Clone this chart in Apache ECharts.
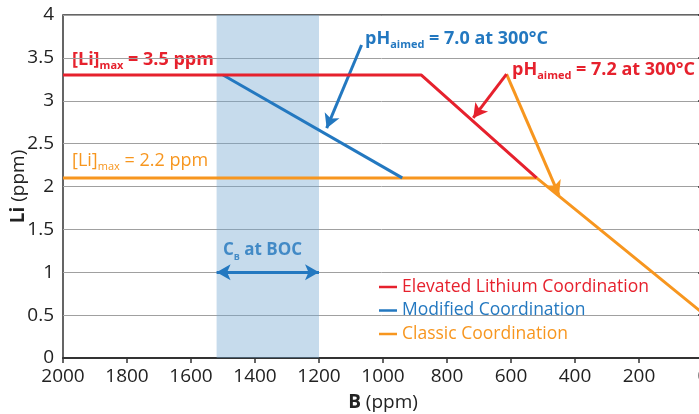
<!DOCTYPE html>
<html>
<head>
<meta charset="utf-8">
<script src="https://cdn.jsdelivr.net/npm/echarts@6/dist/echarts.min.js"></script>
<style>html,body{margin:0;padding:0;background:#fff;}#c{width:699px;height:414px;}</style>
</head>
<body>
<div id="c"></div>
<script>
// ---- data ----
const seriesNames = ['Elevated Lithium Coordination', 'Modified Coordination', 'Classic Coordination'];
const elevated = [[2000, 3.3], [880, 3.3], [520, 2.1]];
const modified = [[1500, 3.3], [940, 2.1]];
const classic = [[2000, 2.1], [520, 2.1], [0, 0.52]];
const bocBand = [1520, 1200];
const bocArrow = [[1520, 1], [1200, 1]];
const blueArrow = [[1067, 3.65], [1176, 2.68]];
const redArrow = [[614, 3.31], [718, 2.80]];
const orangeArrow = [[614, 3.31], [450, 1.90]];
const xTicks = {min: 0, max: 2000, interval: 200};
const yTicks = {min: 0, max: 4, interval: 0.5};

const RED = '#e6212d', BLUE = '#2378c0', ORANGE = '#f7961f';
const FONT = 'Open Sans';

function arrowLine(pts, color, both) {
  return {
    silent: true,
    symbol: both ? ['arrow', 'arrow'] : ['none', 'arrow'],
    symbolSize: [12, 14],
    label: {show: false},
    lineStyle: {color: color, width: 3, type: 'solid'},
    data: [[{coord: pts[0]}, {coord: pts[1]}]]
  };
}

const chart = echarts.init(document.getElementById('c'), null, {renderer: 'canvas'});
const sub = (c, w, fs, ss) => ({
  a: {fontSize: fs, fontWeight: w, fontFamily: FONT, fill: c, color: c, lineHeight: 22},
  s: {fontSize: ss, fontWeight: w, fontFamily: FONT, fill: c, color: c, lineHeight: 11, verticalAlign: 'bottom'}
});
chart.setOption({
  animation: false,
  textStyle: {fontFamily: FONT},
  grid: {left: 63, top: 15, width: 640, height: 343, show: true, borderColor: '#333', borderWidth: 1.5,
         backgroundColor: 'transparent', containLabel: false, outerBoundsMode: 'none'},
  xAxis: {
    type: 'value', inverse: true, min: xTicks.min, max: xTicks.max, interval: xTicks.interval,
    name: '{b|B} (ppm)', nameLocation: 'middle', nameGap: 35, nameMoveOverlap: false,
    nameTextStyle: {fontSize: 19, color: '#222', fontFamily: FONT, rich: {b: {fontSize: 19, fontWeight: 'bold', color: '#222', fontFamily: FONT}}},
    axisLine: {lineStyle: {color: '#333', width: 2}},
    axisTick: {show: true, length: 5, lineStyle: {color: '#333', width: 1.5}},
    axisLabel: {fontSize: 19, color: '#222', margin: 9, fontFamily: FONT, formatter: v => String(v)},
    splitLine: {show: false}
  },
  yAxis: {
    type: 'value', min: yTicks.min, max: yTicks.max, interval: yTicks.interval,
    name: '{b|Li} (ppm)', nameLocation: 'middle', nameGap: 35, nameMoveOverlap: false,
    nameTextStyle: {fontSize: 19, color: '#222', fontFamily: FONT, rich: {b: {fontSize: 19, fontWeight: 'bold', color: '#222', fontFamily: FONT}}},
    axisLine: {show: true, lineStyle: {color: '#333', width: 2}},
    axisTick: {show: true, length: 5, lineStyle: {color: '#333', width: 1.5}},
    axisLabel: {fontSize: 19, color: '#222', margin: 9, fontFamily: FONT, formatter: v => String(v)},
    splitLine: {show: true, lineStyle: {color: '#a0a0a0', width: 1}}
  },
  legend: {
    orient: 'vertical', left: 379, top: 278, padding: 0, itemGap: 5.5, itemWidth: 18, itemHeight: 2.5, icon: 'rect',
    textStyle: {fontSize: 17.5, fontFamily: FONT},
    data: [
      {name: seriesNames[0], textStyle: {color: RED}},
      {name: seriesNames[1], textStyle: {color: BLUE}},
      {name: seriesNames[2], textStyle: {color: ORANGE}}
    ]
  },
  series: [
    {
      name: seriesNames[2], type: 'line', data: classic, symbol: 'none', z: 3,
      lineStyle: {color: ORANGE, width: 3}, itemStyle: {color: ORANGE},
      markArea: {silent: true, itemStyle: {color: 'rgba(112,165,208,0.4)'}, data: [[{xAxis: bocBand[0]}, {xAxis: bocBand[1]}]]},
      markLine: arrowLine(orangeArrow, ORANGE, false)
    },
    {
      name: seriesNames[1], type: 'line', data: modified, symbol: 'none', z: 4,
      lineStyle: {color: BLUE, width: 3}, itemStyle: {color: BLUE},
      markLine: arrowLine(blueArrow, BLUE, false)
    },
    {
      name: seriesNames[0], type: 'line', data: elevated, symbol: 'none', z: 5,
      lineStyle: {color: RED, width: 3}, itemStyle: {color: RED},
      markLine: arrowLine(redArrow, RED, false)
    },
    {
      name: 'boc', type: 'line', data: [], z: 4,
      markLine: arrowLine(bocArrow, BLUE, true)
    }
  ],
  graphic: [
    {type: 'text', left: 72, top: 51, style: {text: '{a|[Li]}{s|max}{a| = 3.5 ppm}', rich: sub(RED, 'bold', 18, 11), fill: RED}},
    {type: 'text', left: 72, top: 152, style: {text: '{a|[Li]}{s|max}{a| = 2.2 ppm}', rich: sub(ORANGE, 'normal', 18, 11), fill: ORANGE}},
    {type: 'text', left: 365, top: 30, style: {text: '{a|pH}{s|aimed}{a| = 7.0 at 300°C}', rich: sub(BLUE, 'bold', 18, 11), fill: BLUE}},
    {type: 'text', left: 512, top: 61, style: {text: '{a|pH}{s|aimed}{a| = 7.2 at 300°C}', rich: sub(RED, 'bold', 18, 11), fill: RED}},
    {type: 'text', left: 223, top: 242, style: {text: '{a|C}{s|B}{a| at BOC}', rich: sub(BLUE, 'bold', 17, 9), fill: BLUE}}
  ]
});
</script>
</body>
</html>
